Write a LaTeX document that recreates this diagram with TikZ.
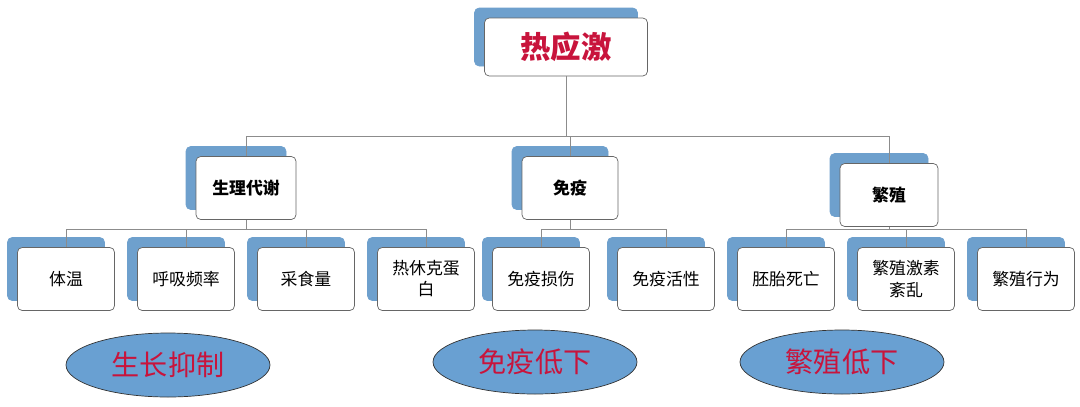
\documentclass[tikz,border=0pt]{standalone}
\usepackage{fontspec}
\setmainfont{Noto Sans CJK SC}
\usetikzlibrary{shadows,shapes.geometric}
\definecolor{backblue}{RGB}{110,160,205}
\definecolor{ellblue}{RGB}{105,160,210}
\definecolor{txtred}{RGB}{200,20,60}
\tikzset{
  box/.style={draw=black!60, fill=white, rounded corners=4pt, line width=0.6pt,
    minimum width=97*0.03cm, minimum height=63*0.03cm, align=center, font=\Large,
    inner sep=1pt, copy shadow={shadow xshift=-0.3cm, shadow yshift=0.3cm, fill=backblue, draw=backblue}},
  result/.style={ellipse, draw=black!80, fill=ellblue, line width=0.6pt,
    minimum width=204*0.03cm, minimum height=64*0.03cm, font=\fontsize{24}{28}\selectfont, text=txtred},
  link/.style={draw=black!45, line width=0.6pt}
}
\begin{document}
\begin{tikzpicture}[x=0.03cm, y=-0.03cm]
  \useasboundingbox (0,0) rectangle (1080,406);

  % top
  \node[box, minimum width=163*0.03cm, minimum height=58*0.03cm, font=\fontsize{26}{30}\selectfont\bfseries, text=txtred] (rt) at (566,47) {热应激};

  % second level
  \node[box, minimum width=100*0.03cm, font=\Large\bfseries] (phy) at (246,188) {生理代谢};
  \node[box, minimum width=96*0.03cm, font=\Large\bfseries] (imm) at (570,188) {免疫};
  \node[box, minimum width=98*0.03cm, font=\Large\bfseries] (rep) at (889,195) {繁殖};

  % third level
  \node[box] (tw) at (66,279) {体温};
  \node[box] (hx) at (186,279) {呼吸频率};
  \node[box] (cs) at (306,279) {采食量};
  \node[box] (rx) at (426,279) {热休克蛋\\白};
  \node[box] (ms) at (541,279) {免疫损伤};
  \node[box] (mh) at (666,279) {免疫活性};
  \node[box] (ps) at (786,279) {胚胎死亡};
  \node[box] (jl) at (906,279) {繁殖激素\\紊乱};
  \node[box] (xw) at (1026,279) {繁殖行为};

  % results
  \node[result] (r1) at (168,365) {生长抑制};
  \node[result] (r2) at (535,362) {免疫低下};
  \node[result] (r3) at (842,362) {繁殖低下};

  % connectors
  \foreach \c in {phy,imm,rep}
    \draw[link] (rt.south) -- (rt.south |- 0,136) -| (\c.north);
  \foreach \c in {tw,hx,cs,rx}
    \draw[link] (phy.south) -- (phy.south |- 0,229) -| (\c.north);
  \foreach \c in {ms,mh}
    \draw[link] (imm.south) -- (imm.south |- 0,229) -| (\c.north);
  \foreach \c in {ps,jl,xw}
    \draw[link] (rep.south) -- (rep.south |- 0,229) -| (\c.north);
\end{tikzpicture}
\end{document}
